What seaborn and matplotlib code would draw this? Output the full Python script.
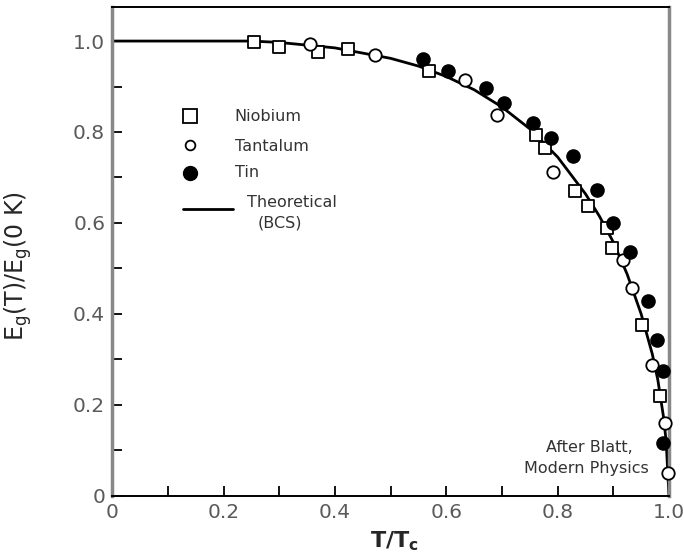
import matplotlib
matplotlib.use("Agg")
import matplotlib.pyplot as plt
import numpy as np
import pandas as pd
import seaborn as sns

# Reduced temperature T/Tc and normalised energy gap Eg(T)/Eg(0 K)
niobium_t = [0.255, 0.300, 0.370, 0.424, 0.569, 0.762, 0.777, 0.831, 0.855,
             0.888, 0.897, 0.951, 0.984]
niobium_gap = [0.998, 0.987, 0.976, 0.982, 0.934, 0.793, 0.764, 0.670, 0.637,
               0.588, 0.544, 0.375, 0.219]

tantalum_t = [0.355, 0.472, 0.634, 0.692, 0.792, 0.918, 0.933, 0.969, 0.993, 0.999]
tantalum_gap = [0.993, 0.969, 0.914, 0.837, 0.713, 0.518, 0.456, 0.287, 0.161, 0.051]

tin_t = [0.559, 0.604, 0.671, 0.703, 0.756, 0.789, 0.828, 0.871, 0.900,
         0.930, 0.962, 0.978, 0.990, 0.990]
tin_gap = [0.960, 0.935, 0.896, 0.864, 0.820, 0.787, 0.748, 0.673, 0.600,
           0.536, 0.428, 0.342, 0.275, 0.117]

# Theoretical (BCS) curve
bcs_t = [0.0, 0.25, 0.30, 0.40, 0.50, 0.55, 0.60, 0.65, 0.70, 0.75, 0.80,
         0.85, 0.875, 0.90, 0.925, 0.95, 0.97, 0.98, 0.99, 0.995, 1.0]
bcs_gap = [1.0, 1.0, 0.997, 0.985, 0.962, 0.945, 0.922, 0.893, 0.855, 0.807,
           0.745, 0.664, 0.615, 0.558, 0.487, 0.400, 0.312, 0.255, 0.175,
           0.120, 0.0]

tick_values = [0.0, 0.2, 0.4, 0.6, 0.8, 1.0]
tick_labels = ["0", "0.2", "0.4", "0.6", "0.8", "1.0"]

sns.set_theme(style="ticks")
plt.rcParams["font.family"] = ["DejaVu Sans"]

fig = plt.figure(figsize=(6.84, 5.53), dpi=100)
ax = fig.add_axes([0.164, 0.1036, 0.814, 0.883])

bcs = pd.DataFrame({"t": bcs_t, "gap": bcs_gap})
sns.lineplot(data=bcs, x="t", y="gap", color="black", linewidth=2.0,
             ax=ax, zorder=2, clip_on=False)

nb = pd.DataFrame({"t": niobium_t, "gap": niobium_gap})
ta = pd.DataFrame({"t": tantalum_t, "gap": tantalum_gap})
sn = pd.DataFrame({"t": tin_t, "gap": tin_gap})

sns.scatterplot(data=nb, x="t", y="gap", marker="s", s=72,
                facecolors="white", edgecolor="black", linewidth=1.3,
                ax=ax, zorder=3, clip_on=False)
sns.scatterplot(data=ta, x="t", y="gap", marker="o", s=80,
                facecolors="white", edgecolor="black", linewidth=1.3,
                ax=ax, zorder=3, clip_on=False)
sns.scatterplot(data=sn, x="t", y="gap", marker="o", s=90,
                facecolors="black", edgecolor="black", linewidth=1.0,
                ax=ax, zorder=4, clip_on=False)

ax.set_xlim(0, 1.0)
ax.set_ylim(0, 1.074)

ax.set_xticks(tick_values)
ax.set_xticklabels(tick_labels)
ax.set_yticks(tick_values)
ax.set_yticklabels(tick_labels)
ax.set_xticks(np.arange(0.1, 1.0, 0.2), minor=True)
ax.set_yticks(np.arange(0.1, 1.0, 0.2), minor=True)
ax.tick_params(axis="both", which="both", direction="in", length=7,
               width=1.3, color="black", labelsize=14.5, labelcolor="#5a5a5a",
               pad=5, top=False, right=False)

for side in ("left", "right"):
    ax.spines[side].set_color("#888888")
    ax.spines[side].set_linewidth(2.5)
for side in ("top", "bottom"):
    ax.spines[side].set_color("black")
    ax.spines[side].set_linewidth(1.4)

ax.set_xlabel(r"T/T$_\mathbf{c}$", fontsize=16, fontweight="bold")
ax.set_ylabel(r"E$_\mathregular{g}$(T)/E$_\mathregular{g}$(0 K)", fontsize=17)
ax.xaxis.set_label_coords(0.507, -0.068)
ax.yaxis.set_label_coords(-0.14, 0.47)

# Key
leg_fs = 11.5
ax.plot([0.140], [0.835], marker="s", ms=10, mfc="white", mec="black",
        mew=1.3, ls="none", clip_on=False)
ax.text(0.220, 0.835, "Niobium", fontsize=leg_fs, va="center", ha="left",
        color="#333333")
ax.plot([0.140], [0.772], marker="o", ms=7, mfc="white", mec="black",
        mew=1.3, ls="none", clip_on=False)
ax.text(0.220, 0.769, "Tantalum", fontsize=leg_fs, va="center", ha="left",
        color="#333333")
ax.plot([0.140], [0.710], marker="o", ms=10, mfc="black", mec="black",
        ls="none", clip_on=False)
ax.text(0.220, 0.710, "Tin", fontsize=leg_fs, va="center", ha="left",
        color="#333333")
ax.plot([0.127, 0.217], [0.630, 0.630], color="black", lw=2.0)
ax.text(0.242, 0.645, "Theoretical", fontsize=leg_fs, va="center",
        ha="left", color="#333333")
ax.text(0.262, 0.600, "(BCS)", fontsize=leg_fs, va="center", ha="left",
        color="#333333")

ax.text(0.78, 0.106, "After Blatt,", fontsize=11.5, va="center", ha="left",
        color="#333333")
ax.text(0.74, 0.060, "Modern Physics", fontsize=11.5, va="center",
        ha="left", color="#333333")

fig.savefig("out.png", dpi=100, facecolor="white")
